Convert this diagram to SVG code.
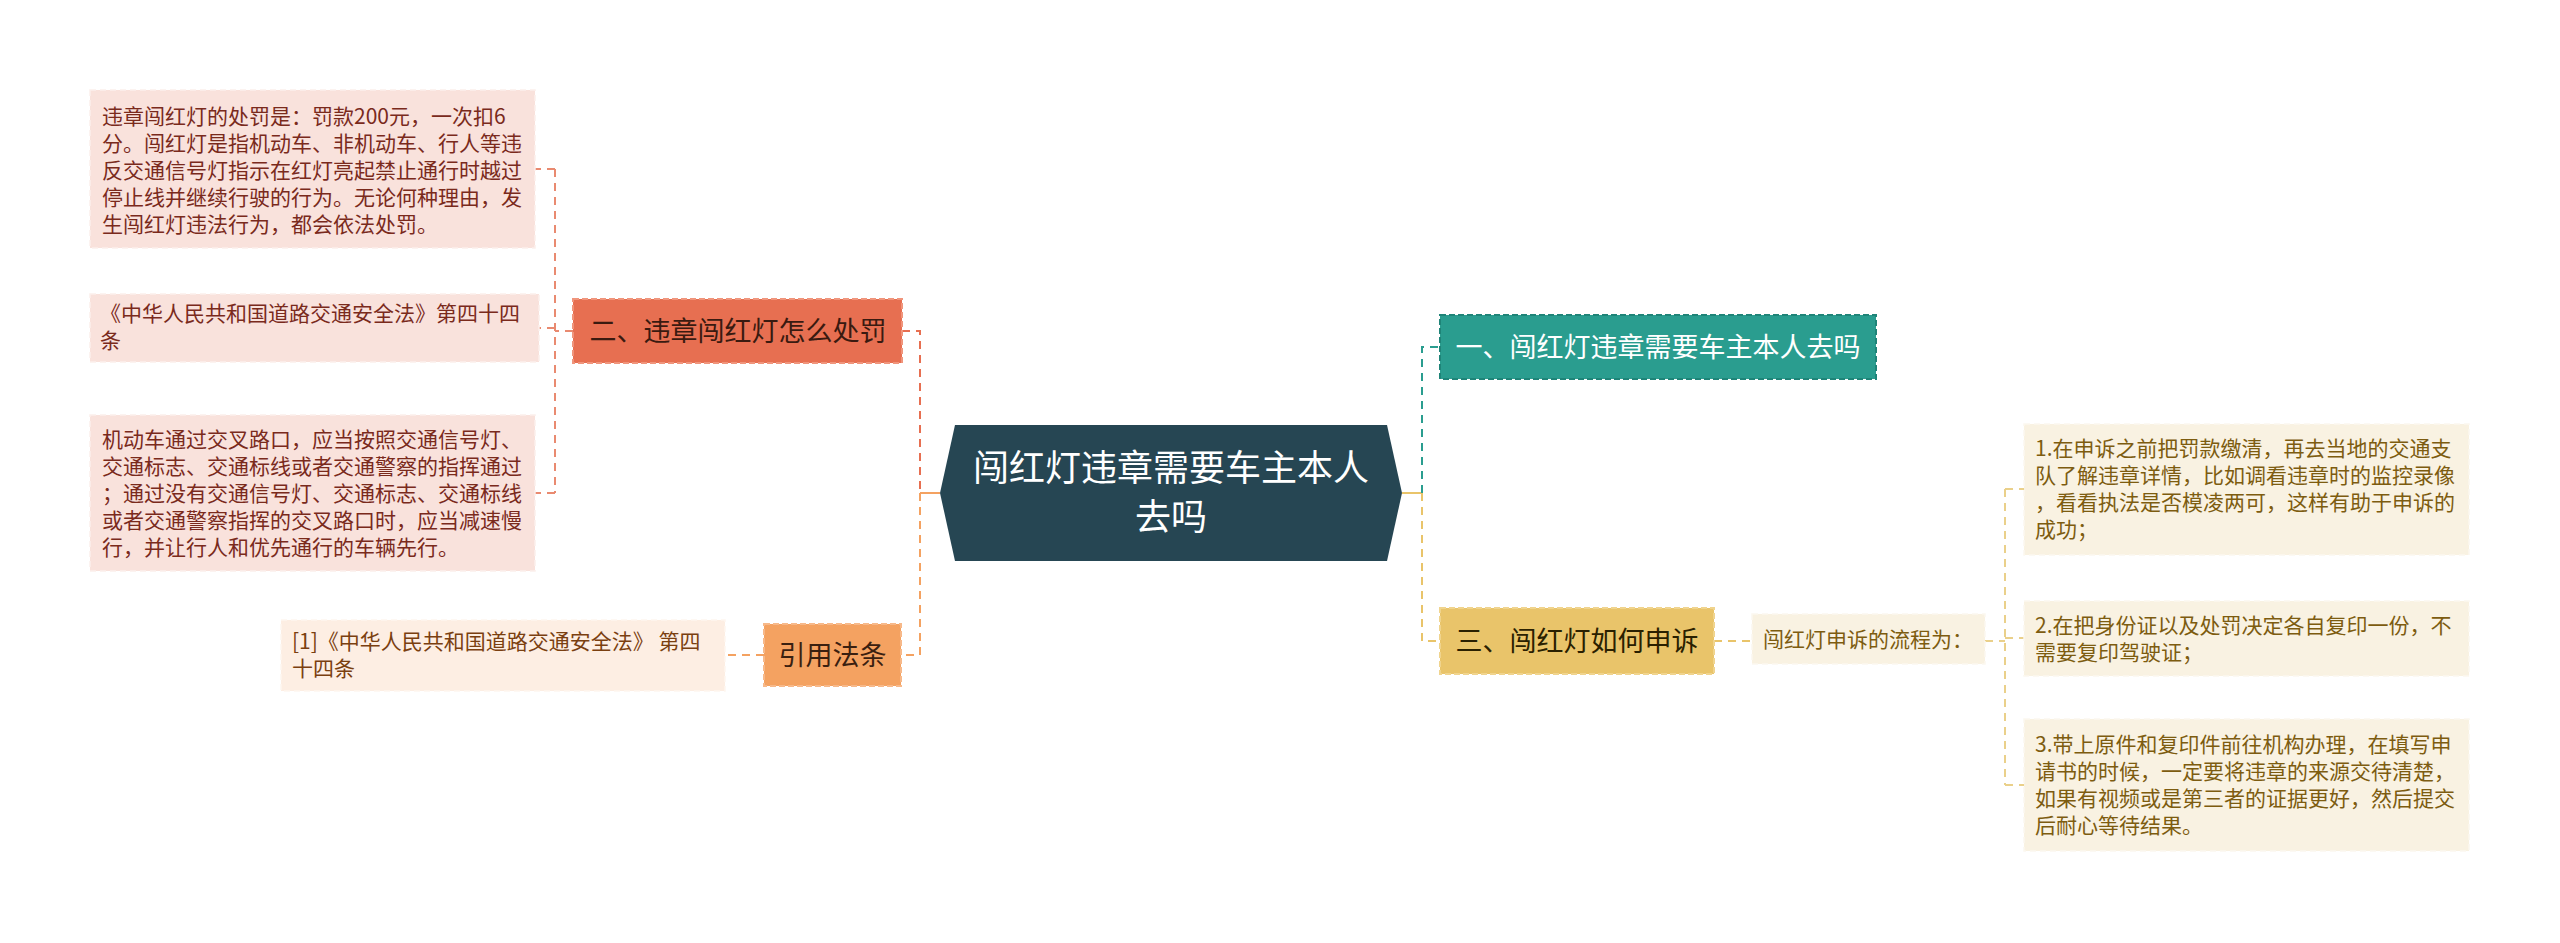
<svg xmlns="http://www.w3.org/2000/svg" width="2560" height="943" viewBox="0 0 2560 943">
<style>
text{font-family:"Noto Sans CJK SC","Noto Sans",sans-serif;}
.leaf{font-size:21px;}
.t1{font-size:27px;}
.c{fill:none;stroke-width:2;stroke-dasharray:8 6;}
.pk{fill:#f9e2dc;stroke:#fcefeb;stroke-width:1.5;stroke-dasharray:6 4;}
.pkt{fill:#7a2a1c;}
.or{fill:#fdeee3;stroke:#fef6f0;stroke-width:1.5;stroke-dasharray:6 4;}
.ort{fill:#7a3f10;}
.yl{fill:#f9f2e2;stroke:#fcf8ef;stroke-width:1.5;stroke-dasharray:6 4;}
.ylt{fill:#7d5c10;}
</style>
<rect width="2560" height="943" fill="#ffffff"/>
<g id="connectors">
  <line x1="940" y1="493" x2="920" y2="493" stroke="#f4a261" stroke-width="2"/>
  <polyline class="c" stroke="#e76f51" points="902,331 920,331 920,493"/>
  <polyline class="c" stroke="#f4a261" points="920,493 920,655 901,655"/>
  <line class="c" stroke="#f4a261" x1="764" y1="655" x2="725" y2="655"/>
  <line class="c" stroke="#e98a70" x1="573" y1="331" x2="555" y2="331"/>
  <line class="c" stroke="#e98a70" x1="555" y1="169" x2="555" y2="493"/>
  <line class="c" stroke="#e98a70" x1="555" y1="169" x2="535" y2="169"/>
  <line class="c" stroke="#e98a70" x1="555" y1="328" x2="539" y2="328"/>
  <line class="c" stroke="#e98a70" x1="555" y1="493" x2="535" y2="493"/>
  <line x1="1402" y1="493" x2="1422" y2="493" stroke="#e9c46a" stroke-width="2"/>
  <polyline class="c" stroke="#2a9d8f" points="1422,493 1422,347 1440,347"/>
  <polyline class="c" stroke="#e9c46a" points="1422,493 1422,641 1440,641"/>
  <line class="c" stroke="#e9c46a" x1="1714" y1="641" x2="1752" y2="641"/>
  <line class="c" stroke="#ead08a" x1="1985" y1="641" x2="2005" y2="641"/>
  <line class="c" stroke="#ead08a" x1="2005" y1="489" x2="2005" y2="785"/>
  <line class="c" stroke="#ead08a" x1="2005" y1="489" x2="2024" y2="489"/>
  <line class="c" stroke="#ead08a" x1="2005" y1="638" x2="2024" y2="638"/>
  <line class="c" stroke="#ead08a" x1="2005" y1="785" x2="2024" y2="785"/>
</g>
<g id="center">
  <polygon points="940,493 955,425 1387,425 1402,493 1387,561 955,561" fill="#264653"/>
  <text x="1171" y="481" font-size="36" fill="#ffffff" text-anchor="middle">闯红灯违章需要车主本人</text>
  <text x="1171" y="530" font-size="36" fill="#ffffff" text-anchor="middle">去吗</text>
</g>
<g id="n2">
  <rect x="573" y="299" width="329" height="64" fill="#e76f51" stroke="#f0957c" stroke-width="2" stroke-dasharray="6 3"/>
  <text class="t1" x="738" y="341" fill="#3a1a10" text-anchor="middle">二、违章闯红灯怎么处罚</text>
</g>
<g id="n4">
  <rect x="764" y="624" width="137" height="62" fill="#f4a261" stroke="#f7b98a" stroke-width="2" stroke-dasharray="6 3"/>
  <text class="t1" x="832.5" y="665" fill="#3a2010" text-anchor="middle">引用法条</text>
</g>
<g id="n1">
  <rect x="1440" y="315" width="436" height="64" fill="#2a9d8f" stroke="#1f8478" stroke-width="2" stroke-dasharray="6 3"/>
  <text class="t1" x="1658" y="357" fill="#ffffff" text-anchor="middle">一、闯红灯违章需要车主本人去吗</text>
</g>
<g id="n3">
  <rect x="1440" y="608" width="274" height="66" fill="#e9c46a" stroke="#f0d48e" stroke-width="2" stroke-dasharray="6 3"/>
  <text class="t1" x="1577" y="651" fill="#2a2000" text-anchor="middle">三、闯红灯如何申诉</text>
</g>
<g id="a">
  <rect class="pk" x="90" y="90" width="445" height="158"/>
  <text class="leaf pkt"><tspan x="102" y="124">违章闯红灯的处罚是：罚款200元，一次扣6</tspan><tspan x="102" y="151">分。闯红灯是指机动车、非机动车、行人等违</tspan><tspan x="102" y="178">反交通信号灯指示在红灯亮起禁止通行时越过</tspan><tspan x="102" y="205">停止线并继续行驶的行为。无论何种理由，发</tspan><tspan x="102" y="232">生闯红灯违法行为，都会依法处罚。</tspan></text>
</g>
<g id="b">
  <rect class="pk" x="90" y="294" width="449" height="68"/>
  <text class="leaf pkt"><tspan x="100" y="321">《中华人民共和国道路交通安全法》第四十四</tspan><tspan x="100" y="348">条</tspan></text>
</g>
<g id="c">
  <rect class="pk" x="90" y="415" width="445" height="156"/>
  <text class="leaf pkt"><tspan x="102" y="447">机动车通过交叉路口，应当按照交通信号灯、</tspan><tspan x="102" y="474">交通标志、交通标线或者交通警察的指挥通过</tspan><tspan x="102" y="501">；通过没有交通信号灯、交通标志、交通标线</tspan><tspan x="102" y="528">或者交通警察指挥的交叉路口时，应当减速慢</tspan><tspan x="102" y="555">行，并让行人和优先通行的车辆先行。</tspan></text>
</g>
<g id="d">
  <rect class="or" x="281" y="620" width="444" height="71"/>
  <text class="leaf ort"><tspan x="292" y="649">[1]《中华人民共和国道路交通安全法》 第四</tspan><tspan x="292" y="676">十四条</tspan></text>
</g>
<g id="e">
  <rect class="yl" x="1752" y="614" width="233" height="50"/>
  <text class="leaf ylt" x="1763" y="647">闯红灯申诉的流程为：</text>
</g>
<g id="f">
  <rect class="yl" x="2024" y="424" width="445" height="131"/>
  <text class="leaf ylt"><tspan x="2035" y="456">1.在申诉之前把罚款缴清，再去当地的交通支</tspan><tspan x="2035" y="483">队了解违章详情，比如调看违章时的监控录像</tspan><tspan x="2035" y="510">，看看执法是否模凌两可，这样有助于申诉的</tspan><tspan x="2035" y="537">成功；</tspan></text>
</g>
<g id="g">
  <rect class="yl" x="2024" y="601" width="445" height="75"/>
  <text class="leaf ylt"><tspan x="2035" y="633">2.在把身份证以及处罚决定各自复印一份，不</tspan><tspan x="2035" y="660">需要复印驾驶证；</tspan></text>
</g>
<g id="h">
  <rect class="yl" x="2024" y="719" width="445" height="132"/>
  <text class="leaf ylt"><tspan x="2035" y="752">3.带上原件和复印件前往机构办理，在填写申</tspan><tspan x="2035" y="779">请书的时候，一定要将违章的来源交待清楚，</tspan><tspan x="2035" y="806">如果有视频或是第三者的证据更好，然后提交</tspan><tspan x="2035" y="833">后耐心等待结果。</tspan></text>
</g>
</svg>
